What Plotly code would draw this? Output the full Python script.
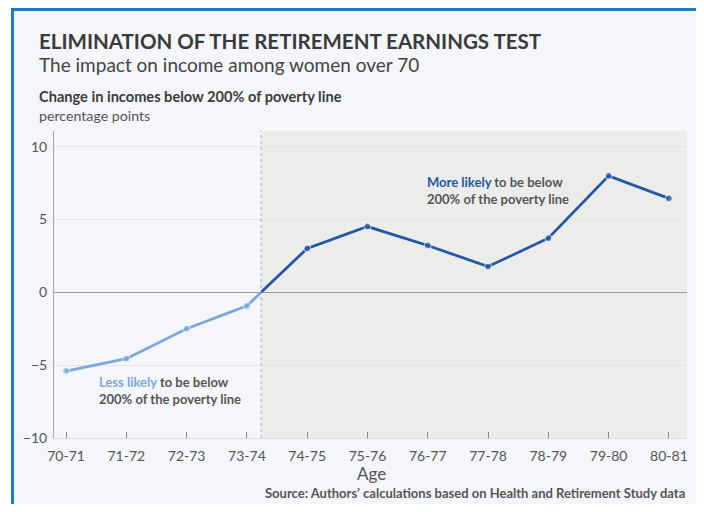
import plotly.graph_objects as go

ages = ["70-71", "71-72", "72-73", "73-74", "74-75", "75-76", "76-77", "77-78", "78-79", "79-80", "80-81"]
change = [-5.4, -4.55, -2.5, -0.93, 3.02, 4.52, 3.22, 1.77, 3.72, 8.0, 6.45]
y_ticks = [-10, -5, 0, 5, 10]

OFF = 8  # page body margin
W, H = 704 - 2 * OFF, 512 - 2 * OFF
# plot area in screenshot pixels
SL, SR, ST, SB = 54, 687, 131, 438
L, R, T, B = SL - OFF, SR - OFF, ST - OFF, SB - OFF

def px(x):
    return (x - SL) / (SR - SL)

def py(y):
    return (SB - y) / (SB - ST)

idx = list(range(len(ages)))
# find zero crossing
k = next(i for i in range(len(change) - 1) if change[i] < 0 <= change[i + 1])
xc = k + (0 - change[k]) / (change[k + 1] - change[k])

light = "#7BA7DD"
dark = "#2357A8"
font = "Lato"

fig = go.Figure()
fig.add_trace(go.Scatter(
    x=idx[:k + 1] + [xc], y=change[:k + 1] + [0],
    mode="lines+markers", line=dict(color=light, width=2.8),
    marker=dict(size=[7] * (k + 1) + [0], color=light), hoverinfo="skip", showlegend=False))
fig.add_trace(go.Scatter(
    x=[xc] + idx[k + 1:], y=[0] + change[k + 1:],
    mode="lines+markers", line=dict(color=dark, width=2.8),
    marker=dict(size=[0] + [7] * (len(change) - k - 1), color=dark), hoverinfo="skip", showlegend=False))

border = "#1E7BCB"
shapes = [
    dict(type="rect", xref="paper", yref="paper", x0=px(11), x1=px(720), y0=py(10), y1=py(530),
         fillcolor="#F4F6FA", line=dict(width=0), layer="below"),
    dict(type="line", xref="paper", yref="paper", x0=px(12.5), x1=px(12.5), y0=py(8), y1=py(530),
         line=dict(color=border, width=3), layer="below"),
    dict(type="line", xref="paper", yref="paper", x0=px(11), x1=px(720), y0=py(9.5), y1=py(9.5),
         line=dict(color=border, width=3), layer="below"),
    dict(type="rect", xref="x", yref="paper", x0=xc, x1=10.3, y0=0, y1=1,
         fillcolor="#ECEDEA", line=dict(width=0), layer="below"),
    dict(type="line", xref="x", yref="paper", x0=xc, x1=xc, y0=0, y1=1,
         line=dict(color="#8AB0E0", width=1, dash="dot")),
]

grey = "#555555"
annotations = [
    dict(x=px(37), y=py(41), xref="paper", yref="paper", xanchor="left", yanchor="middle", showarrow=False,
         text="<b>ELIMINATION OF THE RETIREMENT EARNINGS TEST</b>", font=dict(family=font, size=20.5, color="#3a3a3a")),
    dict(x=px(37), y=py(65), xref="paper", yref="paper", xanchor="left", yanchor="middle", showarrow=False,
         text="The impact on income among women over 70", font=dict(family=font, size=19, color="#444444")),
    dict(x=px(37), y=py(97), xref="paper", yref="paper", xanchor="left", yanchor="middle", showarrow=False,
         text="<b>Change in incomes below 200% of poverty line</b>", font=dict(family=font, size=14.6, color="#3a3a3a")),
    dict(x=px(37), y=py(115), xref="paper", yref="paper", xanchor="left", yanchor="middle", showarrow=False,
         text="percentage points", font=dict(family=font, size=14.2, color=grey)),
    dict(x=px(371), y=py(473), xref="paper", yref="paper", xanchor="center", yanchor="middle", showarrow=False,
         text="Age", font=dict(family=font, size=17, color=grey)),
    dict(x=px(687), y=py(493), xref="paper", yref="paper", xanchor="right", yanchor="middle", showarrow=False,
         text="<b>Source: Authors\u2019 calculations based on Health and Retirement Study data</b>",
         font=dict(family=font, size=13, color=grey)),
    dict(x=px(97), y=py(390), xref="paper", yref="paper", xanchor="left", yanchor="middle", showarrow=False, align="left",
         text=f"<b><span style='color:{light}'>Less likely</span> to be below<br>200% of the poverty line</b>",
         font=dict(family=font, size=13, color=grey)),
    dict(x=px(425), y=py(190), xref="paper", yref="paper", xanchor="left", yanchor="middle", showarrow=False, align="left",
         text=f"<b><span style='color:{dark}'>More likely</span> to be below<br>200% of the poverty line</b>",
         font=dict(family=font, size=13, color=grey)),
]

fig.update_layout(
    width=W, height=H,
    margin=dict(l=L, r=W - R, t=T, b=H - B, pad=0),
    paper_bgcolor="white", plot_bgcolor="rgba(0,0,0,0)",
    shapes=shapes, annotations=annotations,
    font=dict(family=font, color=grey),
)
fig.update_xaxes(
    range=[-0.2, 10.3], tickvals=idx, ticktext=ages, ticks="inside", ticklen=6, tickcolor="#888888",
    showgrid=False, zeroline=False, showline=True, linecolor="#DCDDE0", linewidth=1,
    tickfont=dict(size=14, color=grey), ticklabelstandoff=5,
)
fig.update_yaxes(
    range=[-10, 11.08], tickvals=y_ticks, showgrid=True, gridcolor="#E3E5EA", gridwidth=1,
    zeroline=True, zerolinecolor="#999999", zerolinewidth=1,
    showline=True, linecolor="#AAAAAA", linewidth=1, ticks="", tickfont=dict(size=14, color=grey),
    ticklabelstandoff=3,
)

fig.write_html("out.html")
